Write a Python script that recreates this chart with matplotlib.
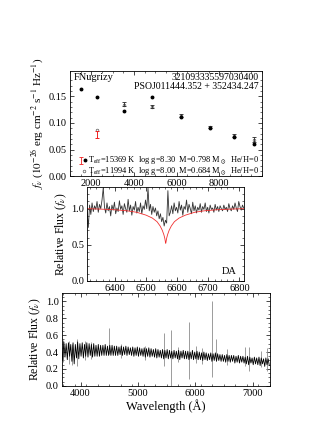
import matplotlib
matplotlib.use("Agg")
import matplotlib.pyplot as plt
import numpy as np

plt.rcParams["font.family"] = ["Liberation Serif", "DejaVu Serif"]
plt.rcParams["mathtext.fontset"] = "stix"
plt.rcParams["xtick.direction"] = "in"
plt.rcParams["ytick.direction"] = "in"
plt.rcParams["xtick.top"] = True
plt.rcParams["ytick.right"] = True
plt.rcParams["xtick.major.size"] = 3.0
plt.rcParams["ytick.major.size"] = 3.0
plt.rcParams["xtick.minor.size"] = 1.6
plt.rcParams["ytick.minor.size"] = 1.6
plt.rcParams["xtick.major.width"] = 0.5
plt.rcParams["ytick.major.width"] = 0.5
plt.rcParams["xtick.minor.width"] = 0.4
plt.rcParams["ytick.minor.width"] = 0.4
plt.rcParams["axes.linewidth"] = 0.6
plt.rcParams["xtick.labelsize"] = 7.5
plt.rcParams["ytick.labelsize"] = 7.5
plt.rcParams["xtick.major.pad"] = 2
plt.rcParams["ytick.major.pad"] = 2

# --- photometry (FUV, NUV, u, g, r, i, z, y) ---
mod1_wave = [1528, 2271, 3551, 4866, 6215, 7545, 8679, 9633]
mod1_flux = [0.164, 0.149, 0.123, 0.149, 0.111, 0.091, 0.073, 0.061]
mod2_wave = [2271, 3551, 4866, 6215, 7545, 8679, 9633]
mod2_flux = [0.086, 0.134, 0.129, 0.113, 0.092, 0.075, 0.067]
obs_wave = [3551, 4866, 6215, 7545, 8679, 9633]
obs_flux = [0.136, 0.131, 0.114, 0.092, 0.076, 0.069]
obs_err = [0.004, 0.003, 0.003, 0.002, 0.003, 0.004]
galex_wave = [2271]
galex_flux = [0.079]
galex_err = [0.0065]

# --- H-alpha region ---
ha_start, ha_step = 6310, 4
ha_flux = [
    0.98, 0.74, 1.05, 0.92, 1.08, 0.96, 1.04, 0.99, 1.10, 0.95,
    1.06, 1.00, 1.12, 1.29, 1.02, 0.94, 1.08, 0.97, 1.03, 0.90,
    1.05, 0.98, 1.09, 0.93, 1.01, 0.96, 1.11, 0.99, 1.04, 0.92,
    1.07, 1.00, 0.95, 1.13, 0.97, 1.05, 0.91, 1.03, 0.98, 1.10,
    0.94, 1.02, 0.96, 1.08, 0.93, 1.04, 0.99, 1.12, 1.00, 1.29,
    0.97, 1.06, 0.92, 1.03, 0.95, 1.01, 0.90, 0.97, 0.86, 0.93,
    0.82, 0.88, 0.76, 0.84, 0.80, 1.25, 0.90, 0.95, 1.04, 0.93,
    1.08, 0.97, 1.02, 0.94, 1.10, 0.98, 1.05, 0.91, 1.03, 0.99,
    1.12, 0.95, 1.06, 1.00, 0.93, 1.09, 0.97, 1.04, 0.94, 1.02,
    0.98, 1.07, 0.95, 1.03, 0.99, 1.08, 0.96, 1.02, 0.94, 1.05,
    0.99, 1.01, 0.95, 1.06, 0.98, 1.03, 0.96, 1.04, 1.00, 0.97,
    1.05, 0.99, 1.02, 0.96, 1.07, 1.00, 0.97, 1.04, 0.99, 1.08,
    1.01, 0.96, 1.10, 1.03, 0.98, 1.05, 1.01,
]
model_wave = [6310, 6350, 6400, 6440, 6470, 6500, 6520, 6535, 6545, 6552,
              6557, 6560, 6562, 6563, 6564, 6566, 6569, 6574, 6581, 6591,
              6606, 6626, 6656, 6686, 6726, 6776, 6815]
model_flux = [1.00, 0.995, 0.985, 0.97, 0.95, 0.91, 0.87, 0.82, 0.76, 0.70,
              0.64, 0.59, 0.54, 0.52, 0.54, 0.59, 0.64, 0.70, 0.76, 0.82,
              0.87, 0.91, 0.95, 0.97, 0.985, 0.995, 1.00]

# --- full optical spectrum ---
sp_start, sp_step = 3670, 20
sp_flux = [
    0.47, 0.30, 0.52, 0.34, 0.50, 0.31, 0.51, 0.35, 0.49, 0.29,
    0.51, 0.26, 0.49, 0.33, 0.52, 0.32, 0.50, 0.35, 0.51, 0.33,
    0.49, 0.35, 0.51, 0.34, 0.50, 0.36, 0.49, 0.34, 0.50, 0.35,
    0.48, 0.35, 0.49, 0.35, 0.48, 0.36, 0.48, 0.36, 0.49, 0.36,
    0.47, 0.36, 0.48, 0.36, 0.48, 0.36, 0.47, 0.36, 0.47, 0.36,
    0.46, 0.37, 0.47, 0.36, 0.46, 0.37, 0.47, 0.36, 0.46, 0.37,
    0.45, 0.36, 0.46, 0.35, 0.45, 0.36, 0.46, 0.35, 0.45, 0.36,
    0.44, 0.35, 0.45, 0.34, 0.44, 0.35, 0.45, 0.34, 0.44, 0.35,
    0.43, 0.34, 0.44, 0.33, 0.43, 0.34, 0.42, 0.33, 0.43, 0.32,
    0.42, 0.33, 0.43, 0.32, 0.42, 0.33, 0.41, 0.32, 0.42, 0.33,
    0.41, 0.32, 0.42, 0.31, 0.41, 0.33, 0.42, 0.32, 0.41, 0.32,
    0.41, 0.31, 0.40, 0.32, 0.42, 0.31, 0.40, 0.32, 0.41, 0.31,
    0.40, 0.31, 0.39, 0.30, 0.40, 0.31, 0.39, 0.30, 0.38, 0.31,
    0.39, 0.29, 0.38, 0.30, 0.39, 0.29, 0.38, 0.30, 0.37, 0.29,
    0.37, 0.29, 0.36, 0.28, 0.37, 0.29, 0.36, 0.28, 0.36, 0.29,
    0.36, 0.27, 0.35, 0.28, 0.36, 0.27, 0.35, 0.28, 0.35, 0.27,
    0.34, 0.26, 0.35, 0.25, 0.34, 0.27, 0.33, 0.25, 0.34, 0.26,
    0.33, 0.25, 0.34, 0.24, 0.33, 0.26, 0.32, 0.23, 0.33, 0.25,
    0.32, 0.24,
]
# sky lines / cosmic rays / noisy pixels: wavelength, top, bottom
spike_wave = [3700, 3800, 3860, 3940, 4080, 4190, 4490, 4700, 5120, 5453,
              5577, 5700, 5891, 6010, 6120, 6300, 6364, 6560, 6870, 6940,
              7150, 7250]
spike_top = [0.54, 0.53, 0.50, 0.56, 0.53, 0.52, 0.69, 0.50, 0.47, 0.63,
             0.66, 0.46, 0.76, 0.47, 0.45, 1.00, 0.55, 0.44, 0.46, 0.46,
             0.41, 0.45]
spike_bot = [0.28, 0.26, 0.25, 0.24, 0.31, 0.32, 0.38, 0.33, 0.31, 0.23,
             0.00, 0.28, 0.08, 0.27, 0.26, 0.10, 0.30, 0.25, 0.24, 0.18,
             0.22, 0.18]

fig = plt.figure(figsize=(3.19, 4.34), dpi=100)

# ---------------- SED panel ----------------
ax1 = fig.add_axes([0.219, 0.594, 0.602, 0.242])
ax1.plot(mod2_wave, mod2_flux, "o", mfc="white", mec="0.35", mew=0.5,
         ms=1.9, zorder=2)
ax1.errorbar(obs_wave, obs_flux, yerr=obs_err, fmt="none", ecolor="0.15",
             elinewidth=0.6, capsize=1.6, capthick=0.6, zorder=3)
ax1.errorbar(galex_wave, galex_flux, yerr=galex_err, fmt="none",
             ecolor="#f02020", elinewidth=0.7, capsize=1.6, capthick=0.7,
             zorder=4)
ax1.plot(mod1_wave, mod1_flux, "o", color="black", ms=1.8, zorder=5)
ax1.set_xlim(1000, 10000)
ax1.set_ylim(0, 0.197)
ax1.set_xticks([2000, 4000, 6000, 8000])
ax1.set_xticks(np.arange(1000, 10001, 500), minor=True)
ax1.set_yticks([0.00, 0.05, 0.10, 0.15])
ax1.set_yticklabels(["0.00", "0.05", "0.10", "0.15"])
ax1.set_yticks(np.arange(0, 0.19, 0.01), minor=True)
ax1.set_ylabel(r"$f_\nu$ ($10^{-26}$ erg cm$^{-2}$ s$^{-1}$ Hz$^{-1}$)",
               fontsize=8, labelpad=2)
ax1.text(0.02, 0.985, "FNugrizy", transform=ax1.transAxes, ha="left",
         va="top", fontsize=7.5)
ax1.text(0.985, 0.985, "321093335597030400\nPSOJ011444.352 + 352434.247",
         transform=ax1.transAxes, ha="right", va="top", fontsize=7,
         linespacing=1.0)
# legend-like lines at the bottom
ax1.errorbar([0.058], [0.15], yerr=[0.035], fmt="none", ecolor="#f02020",
             elinewidth=0.6, capsize=1.2, capthick=0.6,
             transform=ax1.transAxes)
ax1.plot([0.08], [0.15], "o", color="black", ms=1.8, transform=ax1.transAxes)
ax1.plot([0.073], [0.05], "o", mfc="white", mec="0.35", mew=0.5, ms=1.9,
         transform=ax1.transAxes)
ax1.text(0.095, 0.15,
         r"T$_{\rm eff}$=15369 K  log g=8.30  M=0.798 M$_\odot$  He/H=0",
         transform=ax1.transAxes, ha="left", va="center", fontsize=6.0,
         clip_on=True)
ax1.text(0.095, 0.045,
         r"T$_{\rm eff}$=11994 K  log g=8.00  M=0.684 M$_\odot$  He/H=0",
         transform=ax1.transAxes, ha="left", va="center", fontsize=6.0,
         clip_on=True)

# ---------------- H-alpha panel ----------------
ax2 = fig.add_axes([0.273, 0.353, 0.492, 0.216])
ha_wave = ha_start + ha_step * np.arange(len(ha_flux))
ax2.plot(ha_wave, ha_flux, color="0.2", lw=0.6)
ax2.plot(model_wave, model_flux, color="#f03030", lw=0.6)
ax2.set_xlim(6310, 6815)
ax2.set_ylim(0, 1.3)
ax2.set_xticks([6400, 6500, 6600, 6700, 6800])
ax2.set_xticks(np.arange(6320, 6815, 20), minor=True)
ax2.set_yticks([0.0, 0.5, 1.0])
ax2.set_yticks(np.arange(0, 1.3, 0.1), minor=True)
ax2.set_ylabel(r"Relative Flux ($f_\nu$)", fontsize=8.5, labelpad=2)
ax2.text(0.95, 0.05, "DA", transform=ax2.transAxes, ha="right",
         va="bottom", fontsize=7.5)

# ---------------- full spectrum panel ----------------
ax3 = fig.add_axes([0.193, 0.111, 0.653, 0.214])
sp_wave = sp_start + sp_step * np.arange(len(sp_flux))
ax3.vlines(spike_wave, spike_bot, spike_top, color="0.55", lw=0.6)
ax3.plot(sp_wave, sp_flux, color="black", lw=0.6)
ax3.set_xlim(3670, 7300)
ax3.set_ylim(0, 1.1)
ax3.set_xticks([4000, 5000, 6000, 7000])
ax3.set_xticks(np.arange(3700, 7301, 200), minor=True)
ax3.set_yticks([0.0, 0.2, 0.4, 0.6, 0.8, 1.0])
ax3.set_yticks(np.arange(0, 1.1, 0.05), minor=True)
ax3.set_ylabel(r"Relative Flux ($f_\nu$)", fontsize=8.5, labelpad=2)
ax3.set_xlabel("Wavelength (Å)", fontsize=9, labelpad=1)

fig.savefig("out.png", dpi=100)
